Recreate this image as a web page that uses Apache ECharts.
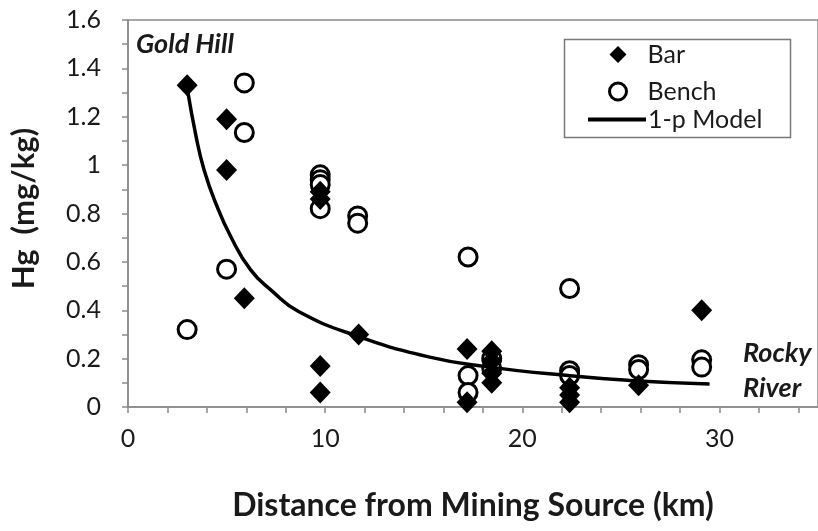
<!DOCTYPE html>
<html>
<head>
<meta charset="utf-8">
<script src="https://cdn.jsdelivr.net/npm/echarts@6/dist/echarts.min.js"></script>
<style>
html,body{margin:0;padding:0;background:#fff;}
#c{width:818px;height:531px;}
</style>
</head>
<body>
<div id="c"></div>
<script>
// Bar samples (filled diamonds)
var barX = [3.0, 5.0, 5.0, 5.9, 9.75, 9.75, 9.75, 9.75, 11.7, 17.2, 17.2, 18.45, 18.45, 18.45, 18.45, 22.4, 22.4, 22.4, 25.9, 29.1];
var barY = [1.33, 1.19, 0.98, 0.45, 0.89, 0.86, 0.17, 0.06, 0.30, 0.24, 0.02, 0.23, 0.19, 0.14, 0.10, 0.08, 0.05, 0.02, 0.09, 0.40];
// Bench samples (open circles)
var benchX = [3.0, 5.0, 5.9, 5.9, 9.75, 9.75, 9.75, 9.75, 11.65, 11.65, 17.25, 17.25, 17.25, 18.45, 18.45, 22.4, 22.4, 22.4, 25.9, 25.9, 29.1, 29.1];
var benchY = [0.32, 0.57, 1.34, 1.135, 0.96, 0.94, 0.92, 0.82, 0.79, 0.76, 0.62, 0.13, 0.06, 0.20, 0.16, 0.49, 0.15, 0.13, 0.175, 0.155, 0.195, 0.165];
// 1-p model curve
var modelX = [3.0, 3.45, 3.86, 4.45, 5.21, 6.22, 7.3, 8.65, 11.67, 15.37, 18.06, 22.42, 25.44, 29.5];
var modelY = [1.32, 1.12, 0.98, 0.843, 0.705, 0.567, 0.48, 0.395, 0.292, 0.205, 0.168, 0.129, 0.11, 0.095];

var seriesNames = ['Bar', 'Bench', '1-p Model'];
var xTickLabels = ['0', '10', '20', '30'];
var yTickLabels = ['0', '0.2', '0.4', '0.6', '0.8', '1', '1.2', '1.4', '1.6'];

function zip(a, b) { return a.map(function (v, i) { return [v, b[i]]; }); }

var FONT = 'Lato, "Open Sans", sans-serif';
var AX = '#8a8a8a';
var TXT = '#1a1a1a';

var chart = echarts.init(document.getElementById('c'), null, {renderer: 'canvas'});
chart.setOption({
  animation: false,
  backgroundColor: '#fff',
  grid: {left: 128, right: -5, top: 20, bottom: 124, show: true, borderColor: AX, borderWidth: 1.5, backgroundColor: 'transparent'},
  xAxis: {
    type: 'value', min: 0, max: 35, interval: 2,
    axisLine: {show: true, lineStyle: {color: AX, width: 1.5}},
    axisTick: {show: true, inside: false, length: 6, lineStyle: {color: AX, width: 1.5}},
    splitLine: {show: false},
    axisLabel: {
      color: TXT, fontFamily: FONT, fontSize: 25, margin: 19, showMaxLabel: false,
      formatter: function (v) { var s = String(Math.round(v)); return xTickLabels.indexOf(s) >= 0 && Math.round(v) % 10 === 0 ? s : ''; }
    },
    name: 'Distance from Mining Source (km)', nameLocation: 'middle', nameGap: 83,
    nameTextStyle: {color: TXT, fontFamily: FONT, fontWeight: 'bold', fontSize: 32}
  },
  yAxis: {
    type: 'value', min: 0, max: 1.6, interval: 0.1,
    axisLine: {show: true, lineStyle: {color: AX, width: 1.5}},
    axisTick: {show: true, inside: false, length: 6, lineStyle: {color: AX, width: 1.5}},
    splitLine: {show: false},
    axisLabel: {
      color: TXT, fontFamily: FONT, fontSize: 25, margin: 27,
      formatter: function (v) {
        var k = Math.round(v * 10);
        if (k % 2 !== 0) return '';
        var s = String(Math.round(v * 10) / 10);
        return yTickLabels.indexOf(s) >= 0 ? s : '';
      }
    },
    name: 'Hg  (mg/kg)', nameLocation: 'middle', nameGap: 89, nameRotate: 90,
    nameTextStyle: {color: TXT, fontFamily: FONT, fontWeight: 'bold', fontSize: 31, padding: [0, 0, 0, 10]}
  },
  legend: [
    {
      show: true, orient: 'vertical', left: 603, top: 37,
      itemWidth: 17, itemHeight: 17, itemGap: 12,
      textStyle: {color: TXT, fontFamily: FONT, fontSize: 25, lineHeight: 25, padding: [0, 0, 0, 16]},
      data: [
        {name: seriesNames[0], icon: 'diamond', itemStyle: {color: '#000', borderWidth: 0}},
        {name: seriesNames[1], icon: 'circle', itemStyle: {color: '#fff', borderColor: '#000', borderWidth: 3}}
      ],
      selectedMode: false
    },
    {
      show: true, orient: 'vertical', left: 583, top: 102,
      itemWidth: 58, itemHeight: 4,
      textStyle: {color: TXT, fontFamily: FONT, fontSize: 25, lineHeight: 25, padding: [0, 0, 0, -3]},
      data: [
        {name: seriesNames[2], icon: 'rect', itemStyle: {color: '#000', borderWidth: 0}}
      ],
      selectedMode: false
    }
  ],
  graphic: [
    {type: 'rect', left: 562, top: 37, shape: {width: 226, height: 98}, style: {fill: 'none', stroke: '#7a7a7a', lineWidth: 1.5}, z: 10},
    {type: 'text', left: 136, top: 31, style: {text: 'Gold Hill', font: 'italic bold 27px ' + FONT, fill: TXT}, z: 10},
    {type: 'text', left: 743, top: 340, style: {text: 'Rocky', font: 'italic bold 27px ' + FONT, fill: TXT}, z: 10},
    {type: 'text', left: 743, top: 375, style: {text: 'River', font: 'italic bold 27px ' + FONT, fill: TXT}, z: 10}
  ],
  series: [
    {
      name: seriesNames[1], type: 'scatter', data: zip(benchX, benchY),
      symbol: 'circle', symbolSize: 18,
      itemStyle: {color: '#fff', borderColor: '#000', borderWidth: 3, opacity: 1},
      z: 2
    },
    {
      name: seriesNames[0], type: 'scatter', data: zip(barX, barY),
      symbol: 'diamond', symbolSize: [21, 22],
      itemStyle: {color: '#000', opacity: 1},
      z: 3
    },
    {
      name: seriesNames[2], type: 'line', data: zip(modelX, modelY),
      smooth: 0.5, symbol: 'none', showSymbol: false,
      lineStyle: {color: '#000', width: 3.5},
      itemStyle: {color: '#000'},
      z: 4
    }
  ]
});
</script>
</body>
</html>
